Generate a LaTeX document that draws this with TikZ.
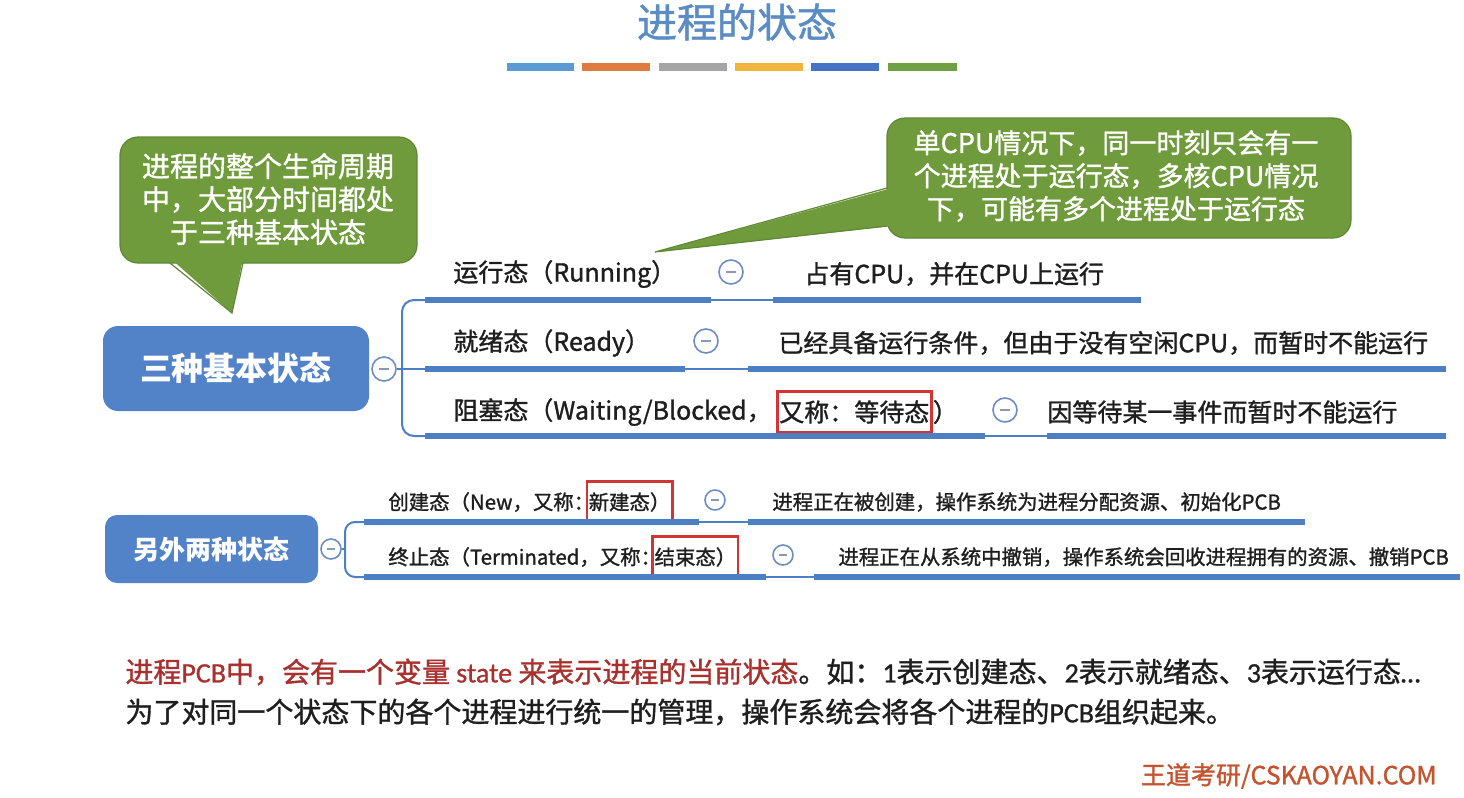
\documentclass[tikz,border=0pt]{standalone}
\usepackage{fontspec}
\setmainfont{Noto Sans CJK SC}
\newfontfamily\med[FakeBold=1.2]{Noto Sans CJK SC}
\newfontfamily\carl{Carlito}
\newfontfamily\carlm[FakeBold=0.8]{Carlito}
\usetikzlibrary{calc}
\definecolor{titleblue}{HTML}{5B8CC4}
\definecolor{cgreen}{HTML}{6F9B3D}
\definecolor{cgreenD}{HTML}{5E8833}
\definecolor{nblue}{HTML}{5283C8}
\definecolor{lblue}{HTML}{4F7FC3}
\definecolor{circb}{HTML}{6D8EC4}
\definecolor{minusc}{HTML}{8A9AB5}
\definecolor{cred}{HTML}{D23434}
\definecolor{dred}{HTML}{A8302E}
\definecolor{wdorange}{HTML}{C4532E}
\definecolor{txtc}{HTML}{1E1E1E}
\definecolor{barA}{HTML}{5B9BD5}
\definecolor{barB}{HTML}{E07B3F}
\definecolor{barC}{HTML}{A5A5A5}
\definecolor{barD}{HTML}{F2B53C}
\definecolor{barE}{HTML}{4472C4}
\definecolor{barF}{HTML}{70A044}
\newcommand{\fsz}[1]{\fontsize{#1pt}{#1pt}\selectfont}
\tikzset{
  colbar/.style={line width=4pt},
  bubble/.style={fill=cgreen, draw=cgreenD, line width=0.6pt, rounded corners=9pt},
  bubtxt/.style={text=white, align=center, inner sep=0, font=\med\fontsize{14pt}{16.5pt}\selectfont},
  mainbox/.style={fill=nblue, rounded corners=7.5pt, text=white, inner sep=0},
  rowtxt/.style={anchor=west, inner sep=0, text=txtc, font=\med\fsz{12.5}},
  smalltxt/.style={anchor=west, inner sep=0, text=txtc, font=\med\fsz{10.2}},
  redbox/.style={draw=cred, line width=1.2pt, inner xsep=1pt, inner ysep=0, minimum height=20.5pt},
  fold/.style={circle, draw=circb, line width=0.8pt, fill=white, inner sep=0, minimum size=12pt},
  foldS/.style={circle, draw=circb, line width=0.8pt, fill=white, inner sep=0, minimum size=10pt},
  minus/.style={draw=minusc, line width=0.9pt},
  thickline/.style={draw=lblue, line width=2.6pt},
  thinline/.style={draw=lblue, line width=0.7pt},
  conn/.style={draw=lblue, line width=1pt, rounded corners=6pt},
}
\begin{document}
\begin{tikzpicture}[x=0.5pt,y=-0.5pt]
\useasboundingbox[fill=white] (0,0) rectangle (1464,798);

% title
\node[text=titleblue, font=\med\fsz{20}, inner sep=0] (title) at (737,22) {进程的状态};
\draw[colbar, barA] (507,67) -- (574,67);
\draw[colbar, barB] (582,67) -- (650,67);
\draw[colbar, barC] (659,67) -- (727,67);
\draw[colbar, barD] (735,67) -- (803,67);
\draw[colbar, barE] (811,67) -- (879,67);
\draw[colbar, barF] (888,67) -- (957,67);

% callout 1
\draw[bubble] (120,137) rectangle (417,263);
\fill[cgreen] (170,258) -- (243,258) -- (232,313) -- cycle;
\draw[cgreenD, line width=0.6pt] (170,263) -- (232,313) -- (243,263);
\node[bubtxt] (bt1) at (268,199) {进程的整个生命周期\\中，大部分时间都处\\于三种基本状态};

% callout 2
\draw[bubble] (887,118) rectangle (1351,238);
\fill[cgreen] (892,188) -- (892,226) -- (655,252) -- cycle;
\draw[cgreenD, line width=0.6pt] (887,188) -- (655,252) -- (887,226);
\node[bubtxt, font=\med\fontsize{13.5pt}{16.5pt}\selectfont] (bt2) at (1116,176) {单CPU情况下，同一时刻只会有一\\个进程处于运行态，多核CPU情况\\下，可能有多个进程处于运行态};

% group 1
\node[mainbox, minimum width=133pt, minimum height=42.5pt, font=\bfseries\fsz{16}] (m1) at (236,368.5) {三种基本状态};
\node[fold] (f0) at (384,369) {};
\draw[minus] ($(f0)+(-5,0)$) -- ($(f0)+(5,0)$);

\node[rowtxt] (l1) at (453,274) {运行态（Running）};
\node[rowtxt] (l2) at (453,343) {就绪态（Ready）};
\node[rowtxt] (l3a) at (453,412) {阻塞态（Waiting/Blocked，};
\node[rowtxt, redbox, anchor=west, xshift=2pt] (l3b) at (l3a.east) {又称：等待态};
\node[rowtxt, anchor=west] (l3c) at (l3b.east) {）};

\node[fold] (f1) at (731,272) {};
\node[fold] (f2) at (706,341) {};
\node[fold] (f3) at (1005,410) {};
\foreach \f in {f1,f2,f3}{\draw[minus] ($(\f)+(-5,0)$) -- ($(\f)+(5,0)$);}

\node[rowtxt] (d1) at (804,274) {占有CPU，并在CPU上运行};
\node[rowtxt] (d2) at (778,343) {已经具备运行条件，但由于没有空闲CPU，而暂时不能运行};
\node[rowtxt] (d3) at (1047,412) {因等待某一事件而暂时不能运行};

\coordinate (a1) at (425,300); \coordinate (b1) at (711,300); \coordinate (c1) at (773,300); \coordinate (e1) at (1141,300);
\coordinate (a2) at (425,369); \coordinate (b2) at (685,369); \coordinate (c2) at (748,369); \coordinate (e2) at (1446,369);
\coordinate (a3) at (425,436); \coordinate (b3) at (985,436); \coordinate (c3) at (1047,436); \coordinate (e3) at (1446,436);
\coordinate (j1) at (402,369);
\draw[conn] (a1) -| (j1) |- (a3);
\draw[conn] (f0) -- (a2);
\foreach \i in {1,2,3}{
  \draw[thickline] (a\i) -- (b\i);
  \draw[thinline] (b\i) -- (c\i);
  \draw[thickline] (c\i) -- (e\i);
}

% group 2
\node[mainbox, minimum width=106.5pt, minimum height=34pt, rounded corners=6pt, font=\bfseries\fsz{13}] (m2) at (211.5,549) {另外两种状态};
\node[foldS] (g0) at (331,549) {};
\draw[minus] ($(g0)+(-4,0)$) -- ($(g0)+(4,0)$);

\node[smalltxt] (la) at (388,502) {创建态（New，又称：};
\node[smalltxt, redbox, anchor=west, xshift=-4.5pt] (lab) at (la.east) {新建态）};
\node[smalltxt] (lb) at (388,557) {终止态（Terminated，又称：};
\node[smalltxt, redbox, anchor=west, xshift=-5pt] (lbb) at (lb.east) {结束态）};

\node[foldS] (g1) at (715,500) {};
\node[foldS] (g2) at (783,555) {};
\foreach \f in {g1,g2}{\draw[minus] ($(\f)+(-4,0)$) -- ($(\f)+(4,0)$);}

\node[smalltxt] (da) at (772,502) {进程正在被创建，操作系统为进程分配资源、初始化PCB};
\node[smalltxt] (db) at (838,557) {进程正在从系统中撤销，操作系统会回收进程拥有的资源、撤销PCB};

\coordinate (pa) at (364,522); \coordinate (qa) at (699,522); \coordinate (ra) at (748,522); \coordinate (sa) at (1305,522);
\coordinate (pb) at (364,577); \coordinate (qb) at (766,577); \coordinate (rb) at (814,577); \coordinate (sb) at (1460,577);
\coordinate (j2) at (345,549);
\draw[conn, rounded corners=5pt] (pa) -| (j2) |- (pb);
\draw[conn] (g0) -- (j2);
\foreach \i in {a,b}{
  \draw[thickline] (p\i) -- (q\i);
  \draw[thinline] (q\i) -- (r\i);
  \draw[thickline] (r\i) -- (s\i);
}

% bottom text
\node[anchor=west, inner sep=0, font=\med\fsz{14}, text=txtc] (n1) at (125,672) {\textcolor{dred}{进程{\carlm PCB}中，会有一个变量 {\carlm state} 来表示进程的当前状态}。如：{\carlm 1}表示创建态、{\carlm 2}表示就绪态、{\carlm 3}表示运行态{\carlm …}};
\node[anchor=west, inner sep=0, font=\med\fsz{14}, text=txtc] (n2) at (125,712) {为了对同一个状态下的各个进程进行统一的管理，操作系统会将各个进程的{\carlm PCB}组织起来。};

\node[anchor=east, inner sep=0, font=\med\fsz{12.5}, text=wdorange] (wd) at (1437,776) {王道考研/CSKAOYAN.COM};
\end{tikzpicture}
\end{document}
